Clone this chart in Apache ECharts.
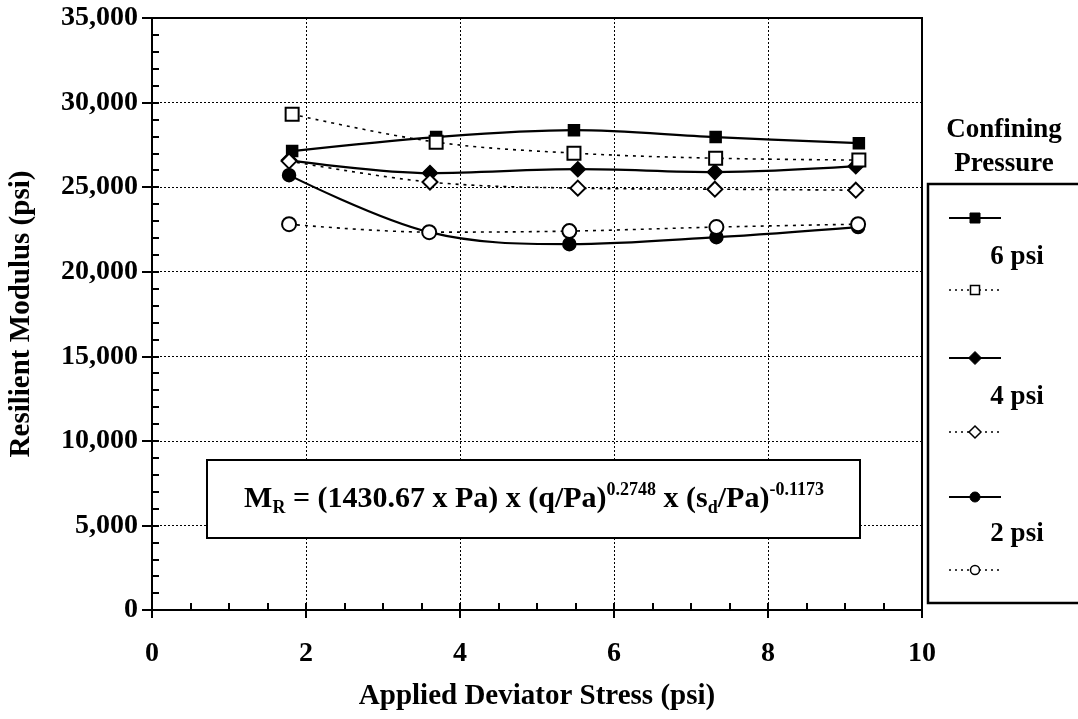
<!DOCTYPE html>
<html>
<head>
<meta charset="utf-8">
<script src="https://cdn.jsdelivr.net/npm/echarts@6/dist/echarts.min.js"></script>
<style>
html,body{margin:0;padding:0;background:#fff;}
#chart{width:1078px;height:719px;}
</style>
</head>
<body>
<div id="chart"></div>
<script>
// Data
const xSquare = [1.82, 3.69, 5.48, 7.32, 9.18];
const xDiamond = [1.78, 3.61, 5.53, 7.31, 9.14];
const xCircle = [1.78, 3.6, 5.42, 7.33, 9.17];

const six_solid   = [27130, 27960, 28370, 27960, 27600];
const six_dotted  = [29310, 27660, 27010, 26710, 26600];
const four_solid  = [26600, 25830, 26060, 25890, 26240];
const four_dotted = [26540, 25300, 24940, 24880, 24820];
const two_solid   = [25710, 22340, 21630, 22040, 22640];
const two_dotted  = [22810, 22340, 22400, 22640, 22810];

const xTicks = [0, 2, 4, 6, 8, 10];
const yTicks = [0, 5000, 10000, 15000, 20000, 25000, 30000, 35000];
const legendLabels = ['6 psi', '4 psi', '2 psi'];

const FONT = '"Liberation Serif", "DejaVu Serif", serif';

function pairs(xs, ys) { return xs.map((x, i) => [x, ys[i]]); }

function solidSeries(name, xs, ys, symbol, size) {
  return {
    name: name, type: 'line', smooth: 0.35, xAxisIndex: 0, yAxisIndex: 0,
    data: pairs(xs, ys), symbol: symbol, symbolSize: size,
    lineStyle: { color: '#000', width: 2.2 },
    itemStyle: { color: '#000', borderColor: '#000', borderWidth: 1.5 },
    z: 3
  };
}
function dottedSeries(name, xs, ys, symbol, size) {
  return {
    name: name, type: 'line', smooth: 0.35, xAxisIndex: 0, yAxisIndex: 0,
    data: pairs(xs, ys), symbol: symbol, symbolSize: size,
    lineStyle: { color: '#000', width: 1.6, type: [3, 5] },
    itemStyle: { color: '#fff', borderColor: '#000', borderWidth: 2 },
    z: 4
  };
}

const chart = echarts.init(document.getElementById('chart'), null, { renderer: 'canvas' });

// Legend graphics
const legendGraphics = [];
const L = { x1: 949, x2: 1001, mx: 975 };
const entryY = [[218, 257, 290], [358, 397, 432], [497, 534, 570]];
const solidSym = ['rect', 'diamond', 'circle'];
legendGraphics.push({
  type: 'rect', shape: { x: 928, y: 184, width: 160, height: 419 },
  style: { fill: '#fff', stroke: '#000', lineWidth: 2.5 }, z: 10
});
legendGraphics.push({
  type: 'text', x: 1004, y: 147, z: 11,
  style: { text: 'Confining\nPressure', font: 'bold 27px ' + FONT, fill: '#000',
           textAlign: 'center', textVerticalAlign: 'middle', lineHeight: 34 }
});
function symbolShape(kind, cx, cy, r) {
  if (kind === 'rect') return { type: 'rect', shape: { x: cx - r, y: cy - r, width: 2 * r, height: 2 * r } };
  if (kind === 'circle') return { type: 'circle', shape: { cx: cx, cy: cy, r: r } };
  return { type: 'polygon', shape: { points: [[cx, cy - r - 1.5], [cx + r + 1.5, cy], [cx, cy + r + 1.5], [cx - r - 1.5, cy]] } };
}
entryY.forEach((e, i) => {
  legendGraphics.push({ type: 'line', z: 11, shape: { x1: L.x1, y1: e[0], x2: L.x2, y2: e[0] },
    style: { stroke: '#000', lineWidth: 2 } });
  const s1 = symbolShape(solidSym[i], L.mx, e[0], 5);
  s1.z = 12; s1.style = { fill: '#000', stroke: '#000', lineWidth: 1 };
  legendGraphics.push(s1);
  legendGraphics.push({ type: 'text', x: 1017, y: e[1], z: 11,
    style: { text: legendLabels[i], font: 'bold 27px ' + FONT, fill: '#000', textAlign: 'center', textVerticalAlign: 'middle' } });
  legendGraphics.push({ type: 'line', z: 11, shape: { x1: L.x1, y1: e[2], x2: L.x2, y2: e[2] },
    style: { stroke: '#000', lineWidth: 1.5, lineDash: [2, 4] } });
  const s2 = symbolShape(solidSym[i], L.mx, e[2], 4.5);
  s2.z = 12; s2.style = { fill: '#fff', stroke: '#000', lineWidth: 1.5 };
  legendGraphics.push(s2);
});

// Equation box
legendGraphics.push({
  type: 'rect', shape: { x: 207, y: 460, width: 653, height: 78 },
  style: { fill: '#fff', stroke: '#000', lineWidth: 2 }, z: 10
});
legendGraphics.push({
  type: 'text', x: 534, y: 499, z: 11,
  style: {
    text: '{m|M}{sub|R}{m| = (1430.67 x Pa) x (q/Pa)}{sup|0.2748}{m| x (s}{sub|d}{m|/Pa)}{sup|-0.1173}',
    textAlign: 'center', textVerticalAlign: 'middle',
    rich: {
      m: { font: 'bold 30px ' + FONT, fill: '#000', verticalAlign: 'middle', lineHeight: 36 },
      sub: { font: 'bold 18px ' + FONT, fill: '#000', verticalAlign: 'bottom', lineHeight: 16 },
      sup: { font: 'bold 18px ' + FONT, fill: '#000', verticalAlign: 'top', lineHeight: 10 }
    }
  }
});

const option = {
  backgroundColor: '#fff',
  animation: false,
  grid: { left: 152, right: 156, top: 18, bottom: 109, outerBoundsMode: 'none', containLabel: false,
          show: true, borderColor: '#000', borderWidth: 2, backgroundColor: 'transparent' },
  xAxis: [
    {
      type: 'value', min: xTicks[0], max: xTicks[xTicks.length - 1], interval: 2, position: 'bottom',
      name: 'Applied Deviator Stress (psi)', nameLocation: 'middle', nameGap: 72,
      nameTextStyle: { fontFamily: FONT, fontWeight: 'bold', fontSize: 29, color: '#000' },
      axisLine: { show: true, onZero: false, lineStyle: { color: '#000', width: 2 } },
      axisTick: { show: true, length: 8, lineStyle: { color: '#000', width: 2 } },
      axisLabel: { fontFamily: FONT, fontWeight: 'bold', fontSize: 28, color: '#000', margin: 30 },
      splitLine: { show: true, lineStyle: { color: '#000', width: 1, type: [2, 2] } }
    },
    {
      type: 'value', min: 0, max: 10, interval: 0.5, position: 'bottom',
      axisLine: { show: false }, axisLabel: { show: false }, splitLine: { show: false },
      axisTick: { show: true, inside: true, length: 7, lineStyle: { color: '#000', width: 2 } }
    }
  ],
  yAxis: [
    {
      type: 'value', min: yTicks[0], max: yTicks[yTicks.length - 1], interval: 5000,
      name: 'Resilient Modulus (psi)', nameLocation: 'middle', nameGap: 116,
      nameTextStyle: { fontFamily: FONT, fontWeight: 'bold', fontSize: 29, color: '#000' },
      axisLine: { show: true, onZero: false, lineStyle: { color: '#000', width: 2 } },
      axisTick: { show: true, length: 10, lineStyle: { color: '#000', width: 2 } },
      axisLabel: { fontFamily: FONT, fontWeight: 'bold', fontSize: 28, color: '#000', margin: 14,
                   formatter: v => v.toLocaleString('en-US') },
      splitLine: { show: true, lineStyle: { color: '#000', width: 1, type: [2, 2] } }
    },
    {
      type: 'value', min: 0, max: 35000, interval: 1000, position: 'left',
      axisLine: { show: false }, axisLabel: { show: false }, splitLine: { show: false },
      axisTick: { show: true, inside: true, length: 7, lineStyle: { color: '#000', width: 2 } }
    }
  ],
  series: [
    solidSeries('6 psi', xSquare, six_solid, 'rect', 11),
    dottedSeries('6 psi dotted', xSquare, six_dotted, 'rect', 13),
    solidSeries('4 psi', xDiamond, four_solid, 'diamond', 15),
    dottedSeries('4 psi dotted', xDiamond, four_dotted, 'diamond', 15),
    solidSeries('2 psi', xCircle, two_solid, 'circle', 13),
    dottedSeries('2 psi dotted', xCircle, two_dotted, 'circle', 14)
  ],
  graphic: legendGraphics
};
chart.setOption(option);
</script>
</body>
</html>
